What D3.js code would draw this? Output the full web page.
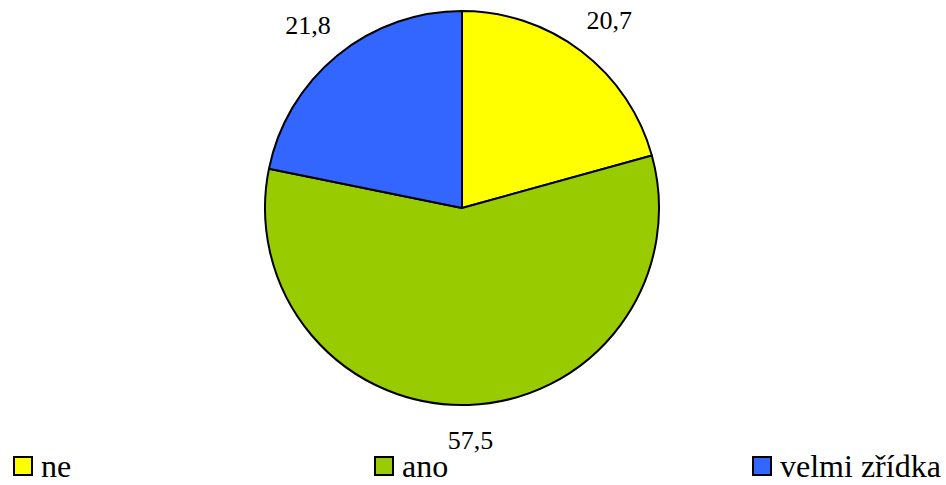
<!DOCTYPE html>
<html>
<head>
<meta charset="utf-8">
<script src="https://cdn.jsdelivr.net/npm/d3@7"></script>
<style>
  html, body { margin: 0; padding: 0; background: #fff; }
</style>
</head>
<body>
<div class="pie-chart"></div>
<script>
// data
const categories = ["ne", "ano", "velmi zřídka"]
const values = [20.7, 57.5, 21.8]
const labels = ["20,7", "57,5", "21,8"]
const colors = ["#FFFF00", "#99CC00", "#3366FF"]

let width = 946, height = 485
let svg = d3.select(".pie-chart")
    .append("svg")
    .attr("width", width)
    .attr("height", height)
    .style("display", "block")
    .style("font-family", "Liberation Serif, serif")

let cx = 462, cy = 208, radius = 197
let data = categories.map((c, i) => ({ name: c, value: values[i], label: labels[i] }))

let pie = d3.pie().sort(null).value((d) => d.value)
let arc = d3.arc().innerRadius(0).outerRadius(radius)
let labelArc = d3.arc().innerRadius(234).outerRadius(234)
let color = d3.scaleOrdinal().domain(categories).range(colors)
let arcs = pie(data)

//扇形
let g = svg.append("g").attr("transform", `translate(${cx},${cy})`)
g.selectAll("path")
    .data(arcs)
    .enter()
    .append("path")
    .attr("d", arc)
    .attr("fill", (d) => color(d.data.name))
    .attr("stroke", "#000")
    .attr("stroke-width", 2)
    .attr("stroke-linejoin", "round")

//数值标签 (上面两个稍微向外偏一点)
arcs.forEach((d) => {
    let [lx, ly] = labelArc.centroid(d)
    svg.append("text")
        .attr("x", cx + lx * 1.04)
        .attr("y", cy + ly + 7)
        .attr("text-anchor", "middle")
        .attr("font-size", 26)
        .style("font-family", "Liberation Serif, serif")
        .text(d.data.label)
})

//图例
let legendX = d3.scaleOrdinal().domain(categories).range([13, 374, 752])
data.forEach((d) => {
    let x0 = legendX(d.name)
    svg.append("rect")
        .attr("x", x0 + 1)
        .attr("y", 457)
        .attr("width", 18)
        .attr("height", 18)
        .attr("fill", color(d.name))
        .attr("stroke", "#000")
        .attr("stroke-width", 2)
    svg.append("text")
        .attr("x", x0 + 28)
        .attr("y", 477)
        .attr("font-size", 32)
        .style("font-family", "Liberation Serif, serif")
        .text(d.name)
})
</script>
</body>
</html>
